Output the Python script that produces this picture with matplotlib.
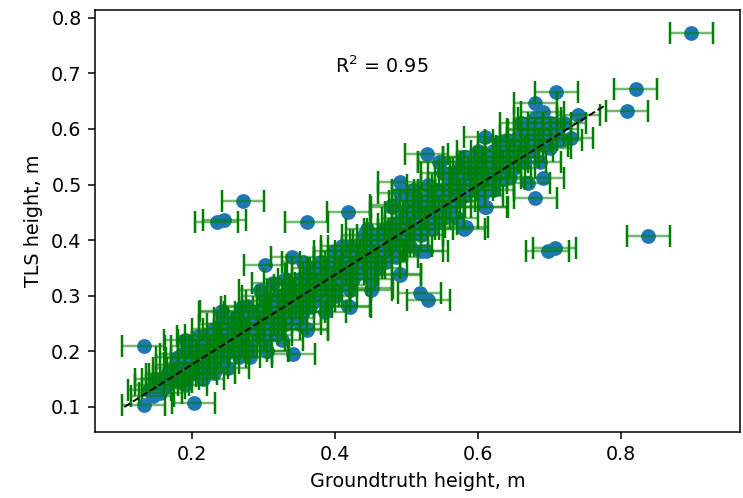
import matplotlib
matplotlib.use("Agg")
import matplotlib.pyplot as plt
import numpy as np

# groundtruth (x) and TLS (y) heights
gt = [
    0.14, 0.145, 0.15, 0.155, 0.16, 0.16, 0.165,
    0.17, 0.17, 0.175, 0.18, 0.18, 0.185, 0.19, 0.19, 0.185,
    0.20, 0.20, 0.205, 0.21, 0.21, 0.215, 0.22, 0.22, 0.215, 0.22,
    0.23, 0.23, 0.235, 0.24, 0.24, 0.245, 0.25, 0.25, 0.245, 0.24, 0.25,
    0.26, 0.26, 0.265, 0.27, 0.27, 0.275, 0.28, 0.28, 0.275, 0.28, 0.265, 0.27,
    0.29, 0.29, 0.295, 0.30, 0.30, 0.305, 0.31, 0.31, 0.30, 0.295, 0.31, 0.305,
    0.32, 0.32, 0.325, 0.33, 0.33, 0.335, 0.34, 0.34, 0.32, 0.33, 0.34, 0.325, 0.34,
    0.35, 0.35, 0.355, 0.36, 0.36, 0.365, 0.37, 0.37, 0.36, 0.35, 0.37, 0.355, 0.36,
    0.38, 0.38, 0.385, 0.39, 0.39, 0.395, 0.40, 0.40, 0.38, 0.39, 0.40, 0.40, 0.385,
    0.41, 0.41, 0.415, 0.42, 0.42, 0.425, 0.43, 0.43, 0.41, 0.42, 0.43, 0.42,
    0.44, 0.44, 0.445, 0.45, 0.45, 0.455, 0.46, 0.46, 0.44, 0.45, 0.46, 0.45,
    0.47, 0.47, 0.475, 0.48, 0.48, 0.485, 0.49, 0.49, 0.48, 0.47, 0.49, 0.49, 0.49,
    0.50, 0.50, 0.505, 0.51, 0.51, 0.515, 0.52, 0.52, 0.50, 0.51, 0.52, 0.505,
    0.53, 0.53, 0.535, 0.54, 0.54, 0.545, 0.55, 0.55, 0.53, 0.54, 0.55, 0.545,
    0.56, 0.56, 0.565, 0.57, 0.57, 0.575, 0.58, 0.58, 0.56, 0.58, 0.57, 0.58,
    0.59, 0.59, 0.595, 0.60, 0.60, 0.605, 0.61, 0.61, 0.60, 0.61, 0.61, 0.60,
    0.62, 0.62, 0.625, 0.63, 0.63, 0.635, 0.64, 0.64, 0.63, 0.62, 0.644,
    0.65, 0.65, 0.655, 0.66, 0.66, 0.665, 0.67, 0.67, 0.66,
    0.68, 0.68, 0.685, 0.69, 0.69, 0.686, 0.70, 0.69, 0.70, 0.68, 0.68,
    0.709, 0.71, 0.72, 0.73, 0.74, 0.715,
    # denser middle of the band
    0.15, 0.165, 0.175, 0.18, 0.195, 0.20,
    0.21, 0.225, 0.23, 0.235, 0.24, 0.25, 0.255,
    0.26, 0.265, 0.27, 0.285, 0.29, 0.295, 0.30, 0.30,
    0.315, 0.32, 0.33, 0.335, 0.34, 0.345, 0.35, 0.35,
    0.365, 0.37, 0.375, 0.38, 0.39, 0.395, 0.40, 0.40,
    0.41, 0.415, 0.42, 0.43, 0.435, 0.44, 0.45, 0.445,
    0.46, 0.465, 0.47, 0.475, 0.48, 0.49, 0.495, 0.50,
    0.51, 0.515, 0.52, 0.525, 0.53, 0.54, 0.545, 0.55,
    0.56, 0.565, 0.57, 0.575, 0.58, 0.59, 0.595, 0.60,
    0.615, 0.62, 0.625, 0.635, 0.64, 0.65, 0.655, 0.66,
    0.67, 0.675, 0.68, 0.69, 0.695, 0.70,
    # outliers
    0.898, 0.82, 0.808, 0.838, 0.697, 0.707, 0.271, 0.234, 0.245, 0.36,
    0.418, 0.132, 0.132, 0.202, 0.341, 0.518, 0.53, 0.418, 0.302, 0.528,
    0.19, 0.208, 0.193, 0.241, 0.23, 0.281, 0.304, 0.36, 0.451, 0.49, 0.527,
    0.479, 0.509, 0.276, 0.313, 0.611, 0.581, 0.546, 0.672, 0.583,
]
tls = [
    0.13, 0.12, 0.14, 0.125, 0.15, 0.135, 0.14,
    0.16, 0.145, 0.17, 0.15, 0.175, 0.16, 0.18, 0.14, 0.195,
    0.17, 0.19, 0.16, 0.20, 0.18, 0.21, 0.19, 0.17, 0.15, 0.23,
    0.20, 0.22, 0.18, 0.21, 0.25, 0.19, 0.22, 0.20, 0.24, 0.27, 0.17,
    0.21, 0.24, 0.23, 0.22, 0.25, 0.20, 0.24, 0.26, 0.27, 0.21, 0.19, 0.28,
    0.25, 0.23, 0.27, 0.24, 0.26, 0.29, 0.25, 0.27, 0.22, 0.31, 0.23, 0.20,
    0.26, 0.28, 0.30, 0.27, 0.25, 0.29, 0.28, 0.31, 0.24, 0.33, 0.26, 0.22, 0.37,
    0.29, 0.31, 0.27, 0.30, 0.32, 0.28, 0.31, 0.33, 0.34, 0.25, 0.29, 0.36, 0.24,
    0.32, 0.30, 0.34, 0.31, 0.33, 0.35, 0.32, 0.34, 0.36, 0.29, 0.37, 0.30, 0.27,
    0.34, 0.36, 0.32, 0.35, 0.37, 0.33, 0.36, 0.38, 0.39, 0.31, 0.34, 0.28,
    0.37, 0.35, 0.39, 0.36, 0.38, 0.40, 0.37, 0.39, 0.41, 0.33, 0.35, 0.31,
    0.38, 0.40, 0.42, 0.39, 0.41, 0.37, 0.40, 0.43, 0.46, 0.36, 0.34, 0.485, 0.505,
    0.41, 0.43, 0.39, 0.42, 0.44, 0.46, 0.43, 0.41, 0.45, 0.49, 0.38, 0.47,
    0.44, 0.46, 0.42, 0.45, 0.47, 0.49, 0.44, 0.46, 0.50, 0.43, 0.52, 0.54,
    0.46, 0.48, 0.50, 0.47, 0.49, 0.51, 0.48, 0.50, 0.52, 0.55, 0.44, 0.42,
    0.49, 0.51, 0.53, 0.50, 0.52, 0.48, 0.51, 0.54, 0.56, 0.46, 0.585, 0.53,
    0.52, 0.50, 0.54, 0.53, 0.56, 0.51, 0.54, 0.58, 0.577, 0.49, 0.514,
    0.55, 0.53, 0.57, 0.56, 0.59, 0.54, 0.60, 0.503, 0.61,
    0.58, 0.60, 0.62, 0.63, 0.512, 0.541, 0.566, 0.59, 0.61, 0.647, 0.476,
    0.667, 0.60, 0.61, 0.584, 0.625, 0.58,
    # denser middle of the band
    0.15, 0.16, 0.155, 0.19, 0.17, 0.21,
    0.22, 0.21, 0.24, 0.20, 0.23, 0.25, 0.21,
    0.26, 0.25, 0.24, 0.25, 0.27, 0.24, 0.28, 0.30,
    0.28, 0.30, 0.29, 0.31, 0.30, 0.32, 0.33, 0.27,
    0.32, 0.35, 0.30, 0.34, 0.35, 0.32, 0.36, 0.38,
    0.38, 0.35, 0.39, 0.37, 0.35, 0.39, 0.40, 0.42,
    0.41, 0.38, 0.42, 0.39, 0.43, 0.42, 0.44, 0.40,
    0.45, 0.42, 0.47, 0.45, 0.48, 0.49, 0.46, 0.48,
    0.50, 0.47, 0.52, 0.53, 0.52, 0.53, 0.50, 0.54,
    0.53, 0.56, 0.55, 0.55, 0.56, 0.58, 0.55, 0.57,
    0.58, 0.56, 0.62, 0.60, 0.57, 0.59,
    # outliers
    0.773, 0.672, 0.633, 0.408, 0.381, 0.386, 0.470, 0.432, 0.436, 0.433,
    0.451, 0.210, 0.104, 0.107, 0.195, 0.305, 0.292, 0.281, 0.355, 0.555,
    0.221, 0.227, 0.188, 0.272, 0.161, 0.190, 0.200, 0.239, 0.314, 0.338, 0.380,
    0.464, 0.490, 0.281, 0.323, 0.460, 0.550, 0.541, 0.598, 0.424,
]
gt_err = 0.03

# dashed regression line and its score
fit_x = [0.105, 0.778]
fit_y = [0.100, 0.643]
r2 = 0.95

plt.rcParams['font.size'] = 10
fig = plt.figure(figsize=(743 / 138, 498 / 138), dpi=138)
ax = fig.add_axes([95 / 743, 66 / 498, 645 / 743, 422 / 498])

ax.scatter(gt, tls, s=45, color='C0', zorder=2)
_, caps, bars = ax.errorbar(gt, tls, xerr=gt_err, fmt='none', ecolor='green',
                            elinewidth=1.3, capsize=5.5, capthick=1.3, zorder=3)
bars[0].set_alpha(0.55)
ax.plot(fit_x, fit_y, 'k--', lw=1, zorder=4)
ax.text(0.4, 0.70, 'R$^2$ = %.2f' % r2)

ax.set_xlim(0.064, 0.966)
ax.set_ylim(0.055, 0.814)
ax.set_xticks([0.2, 0.4, 0.6, 0.8])
ax.set_xlabel("Groundtruth height, m")
ax.set_ylabel("TLS height, m")

fig.savefig("out.png", dpi=138)
